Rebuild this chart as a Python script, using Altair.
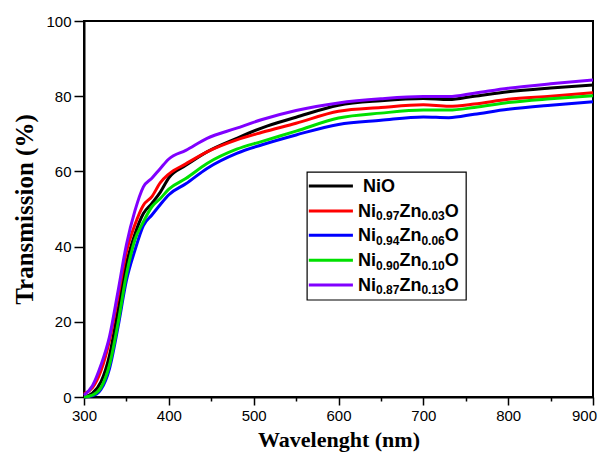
import altair as alt
import pandas as pd

# ---------------- data ----------------
wavelength = [300, 310, 320, 330, 340, 350, 360, 370, 380, 390, 400, 420,
              445, 480, 510, 550, 600, 650, 700, 730, 760, 800, 850, 900]

series_names = ["NiO", "Ni0.97Zn0.03O", "Ni0.94Zn0.06O", "Ni0.90Zn0.10O", "Ni0.87Zn0.13O"]
series_colors = ["#000000", "#ff0000", "#0000ff", "#00e000", "#8000ff"]

t_nio = [0, 1, 4, 11, 23, 35.5, 43.3, 48.8, 51.5, 54.5, 58.3, 61.6,
         65.2, 68.8, 71.6, 74.4, 77.6, 78.8, 79.4, 79.1, 80.0, 81.2, 82.2, 83.0]
t_097 = [0.8, 2.5, 7, 15, 26.7, 38.6, 45.8, 51.0, 53.3, 57.0, 59.3, 62.0,
         65.2, 68.4, 70.4, 72.8, 76.0, 77.0, 77.7, 77.3, 77.9, 79.2, 80.0, 80.9]
t_094 = [0, 0.3, 2, 7.5, 18.5, 31, 39, 45.6, 48.4, 51.2, 53.8, 56.7,
         60.8, 64.8, 67.1, 69.7, 72.5, 73.6, 74.5, 74.3, 75.2, 76.5, 77.6, 78.5]
t_090 = [0, 0.5, 2.5, 8.5, 19.5, 32.5, 41.8, 46.6, 50.6, 52.8, 55.3, 58.1,
         62.1, 65.9, 68.0, 70.7, 74.2, 75.5, 76.3, 76.3, 77.0, 78.3, 79.3, 80.1]
t_087 = [0.5, 3, 8.5, 16, 28, 40.5, 49.5, 55.9, 58.2, 60.8, 63.3, 65.6,
         68.8, 71.5, 73.8, 76.2, 78.2, 79.3, 79.9, 79.9, 80.8, 82.1, 83.3, 84.3]

ni_sub = ["0.97", "0.94", "0.90", "0.87"]
zn_sub = ["0.03", "0.06", "0.10", "0.13"]

# ---------------- tables ----------------
all_t = [t_nio, t_097, t_094, t_090, t_087]
rows = []
for name, vals in zip(series_names, all_t):
    for w, t in zip(wavelength, vals):
        rows.append({"series": name, "wl": w, "T": t})
df = pd.DataFrame(rows)

color_scale = alt.Scale(domain=series_names, range=series_colors)
x_scale = alt.Scale(domain=[300, 900], nice=False, zero=False)
y_scale = alt.Scale(domain=[0, 100], nice=False)

major_x = "datum.value % 100 === 0"
major_y = "datum.value % 20 === 0"

x_axis = alt.Axis(
    values=list(range(300, 901, 50)),
    labelExpr=f"{major_x} ? datum.label : ''",
    tickSize={"condition": {"test": major_x, "value": 8}, "value": 4},
    labelOffset={"condition": {"test": "datum.value === 900", "value": -9}, "value": 0},
    title="Wavelenght (nm)", titleFont="Liberation Serif", titleFontSize=22,
    titleFontWeight="bold", titleColor="black", titlePadding=6,
    labelFont="Liberation Sans", labelFontSize=15, labelColor="black",
    labelPadding=3, labelOverlap=False, labelFlush=False,
    domainColor="black", domainWidth=2, tickColor="black", tickWidth=1.5,
    grid=False,
)
y_axis = alt.Axis(
    values=list(range(0, 101, 10)),
    labelExpr=f"{major_y} ? datum.label : ''",
    tickSize={"condition": {"test": major_y, "value": 10}, "value": 5},
    title="Transmission (%)", titleFont="Liberation Serif", titleFontSize=25,
    titleFontWeight="bold", titleColor="black", titlePadding=8,
    labelFont="Liberation Sans", labelFontSize=15, labelColor="black",
    labelPadding=3, labelOverlap=False, labelFlush=False,
    domainColor="black", domainWidth=2, tickColor="black", tickWidth=1.5,
    grid=False,
)

lines = alt.Chart(df).mark_line(strokeWidth=3, interpolate="monotone").encode(
    x=alt.X("wl:Q", scale=x_scale, axis=x_axis),
    y=alt.Y("T:Q", scale=y_scale, axis=y_axis),
    color=alt.Color("series:N", scale=color_scale, legend=None),
    detail="series:N",
)

# ---------------- custom legend (in data coordinates) ----------------
row_y = [56.1, 49.5, 43.0, 36.4, 29.8]
leg_df = pd.DataFrame({"series": series_names, "ly": row_y})
sub_df = pd.DataFrame({"series": series_names[1:], "ly": row_y[1:],
                       "s1": ni_sub, "s2": zn_sub,
                       "ni": ["Ni"] * 4, "zn": ["Zn"] * 4, "o": ["O"] * 4})

box = alt.Chart(pd.DataFrame({"a": [0]})).mark_rect(
    fill="white", stroke="black", strokeWidth=1.2
).encode(
    x=alt.datum(563), x2=alt.datum(750.5),
    y=alt.datum(59.8), y2=alt.datum(25.8),
)

leg_lines = alt.Chart(leg_df).mark_rule(strokeWidth=3).encode(
    x=alt.datum(565), x2=alt.datum(617),
    y="ly:Q",
    color=alt.Color("series:N", scale=color_scale, legend=None),
)

txt_main = dict(font="Liberation Sans", fontWeight="bold", fontSize=18,
                align="left", baseline="alphabetic", color="black", dy=6)
txt_sub = dict(font="Liberation Sans", fontWeight="bold", fontSize=12,
               align="left", baseline="alphabetic", color="black", dy=9.5)

nio_txt = alt.Chart(leg_df.iloc[:1]).mark_text(**txt_main).encode(
    x=alt.datum(629), y="ly:Q", text="series:N")

base_sub = alt.Chart(sub_df)
t_ni = base_sub.mark_text(**txt_main, dx=0).encode(x=alt.datum(623), y="ly:Q", text="ni:N")
t_s1 = base_sub.mark_text(**txt_sub, dx=18).encode(x=alt.datum(623), y="ly:Q", text="s1:N")
t_zn = base_sub.mark_text(**txt_main, dx=41.4).encode(x=alt.datum(623), y="ly:Q", text="zn:N")
t_s2 = base_sub.mark_text(**txt_sub, dx=63.4).encode(x=alt.datum(623), y="ly:Q", text="s2:N")
t_o = base_sub.mark_text(**txt_main, dx=86.8).encode(x=alt.datum(623), y="ly:Q", text="o:N")

chart = alt.layer(
    lines, box, leg_lines, nio_txt, t_ni, t_s1, t_zn, t_s2, t_o
).properties(
    width=509, height=376,
    autosize=alt.AutoSizeParams(type="none"),
    padding={"left": 76, "top": 13, "right": 5, "bottom": 56},
    background="white",
).configure_view(stroke="black", strokeWidth=2)

chart.save("out.html", embed_options={"renderer": "svg", "actions": False})
